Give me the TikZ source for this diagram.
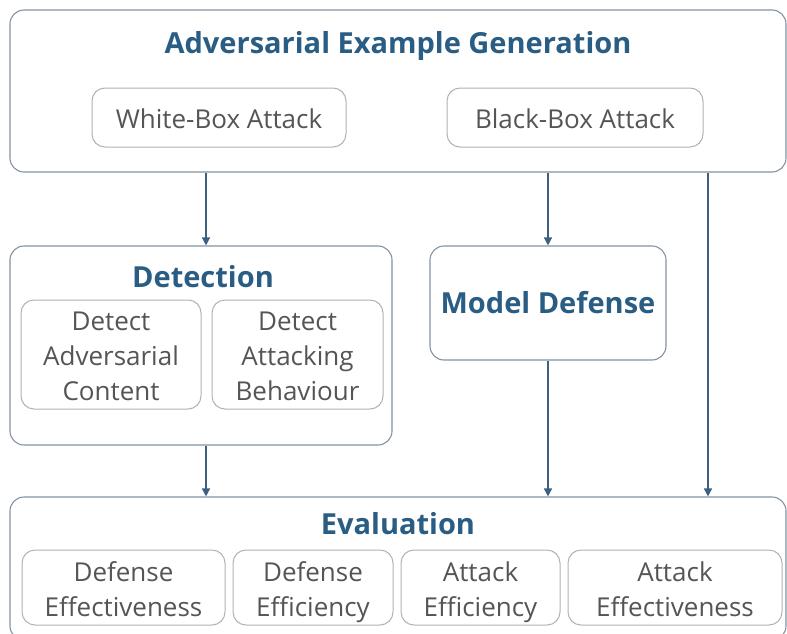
\documentclass[tikz,border=0pt]{standalone}
\usepackage{fontspec}
\setmainfont{Open Sans}
\usetikzlibrary{arrows.meta}
\definecolor{titleblue}{HTML}{2A5D84}
\definecolor{framegray}{HTML}{8493A3}
\definecolor{innergray}{HTML}{ADB3B9}
\definecolor{textgray}{HTML}{555555}
\definecolor{arrowblue}{HTML}{3D6082}
% invisible rules that fix the height of the first and the depth of the last line
\newcommand\topgap{\rule{0pt}{28.5pt}}
\newcommand\botgap{\rule[-6.5pt]{0pt}{6.5pt}}
\tikzset{
  outerbox/.style={draw=framegray, line width=1.1pt, rounded corners=14pt, fill=white, inner sep=0pt},
  innerbox/.style={draw=innergray, line width=1pt, rounded corners=13pt, fill=white, inner sep=0pt,
    text=textgray, font=\fontsize{26}{35}\selectfont, align=center},
  titletext/.style={text=titleblue, font=\fontsize{29}{34}\selectfont\bfseries, inner sep=0pt},
  arr/.style={draw=arrowblue, line width=1.4pt, -{Triangle[length=8pt,width=8pt]}}
}
\begin{document}
\begin{tikzpicture}[x=1pt, y=-1pt]
\clip (0,0) rectangle (787,634);
\fill[white] (0,0) rectangle (787,634);

% generation stage
\node[outerbox, minimum width=776pt, minimum height=162pt] (gen) at (398,91) {};
\node[titletext] (gent) at (398,46) {Adversarial Example Generation};
\node[innerbox, minimum width=254pt, minimum height=59pt] (wb) at (219,117.5) {\topgap White-Box Attack\botgap};
\node[innerbox, minimum width=256pt, minimum height=59pt] (bb) at (575,117.5) {\topgap Black-Box Attack\botgap};

% detection stage
\node[outerbox, minimum width=382pt, minimum height=199pt] (det) at (201,345.5) {};
\node[titletext] (dett) at (203,277) {Detection};
\node[innerbox, minimum width=180pt, minimum height=109pt] (dac) at (111,354.5)
  {\topgap Detect\\Adversarial\\Content\botgap};
\node[innerbox, minimum width=171pt, minimum height=109pt] (dab) at (297.5,354.5)
  {\topgap Detect\\Attacking\\Behaviour\botgap};

% defense stage
\node[outerbox, minimum width=236pt, minimum height=114pt, titletext, inner sep=0pt] (md) at (548,303) {Model Defense};

% evaluation stage
\node[outerbox, minimum width=776pt, minimum height=143pt] (ev) at (398,568.5) {};
\node[titletext] (evt) at (398,524) {Evaluation};
\node[innerbox, minimum width=203pt, minimum height=75pt] (de) at (123.5,587.5) {\topgap Defense\\Effectiveness\botgap};
\node[innerbox, minimum width=160pt, minimum height=75pt] (dy) at (313,587.5) {\topgap Defense\\Efficiency\botgap};
\node[innerbox, minimum width=159pt, minimum height=75pt] (ay) at (480.5,587.5) {\topgap Attack\\Efficiency\botgap};
\node[innerbox, minimum width=214pt, minimum height=75pt] (ae) at (675,587.5) {\topgap Attack\\Effectiveness\botgap};

% connectors
\coordinate (lefttap) at (206,0);
\coordinate (righttap) at (708,0);
\draw[arr] (gen.south -| lefttap) -- (det.north -| lefttap);
\draw[arr] (gen.south -| md.north) -- (md.north);
\draw[arr] (gen.south -| righttap) -- (ev.north -| righttap);
\draw[arr] (det.south -| lefttap) -- (ev.north -| lefttap);
\draw[arr] (md.south) -- (ev.north -| md.south);
\end{tikzpicture}
\end{document}
